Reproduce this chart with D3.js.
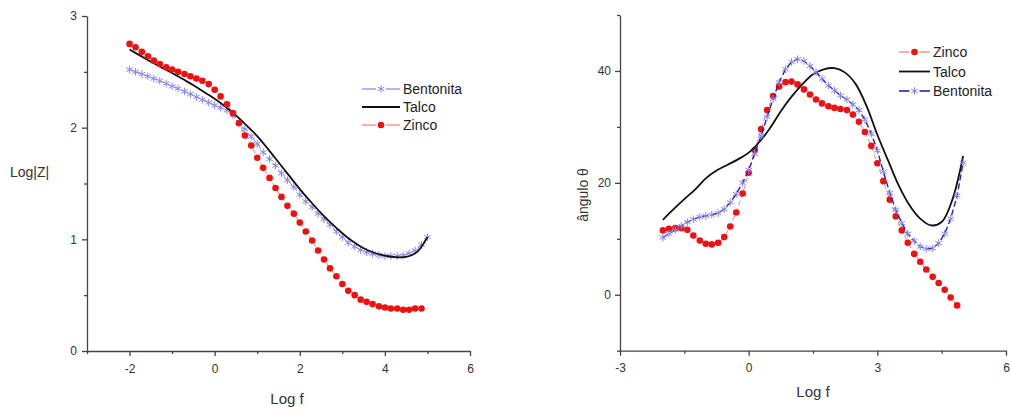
<!DOCTYPE html>
<html>
<head>
<meta charset="utf-8">
<script src="https://cdn.jsdelivr.net/npm/d3@7"></script>
<style>
  html, body { margin: 0; padding: 0; background: #fff; }
  svg { display: block; }
  text { font-family: "Liberation Sans", Arial, Helvetica, sans-serif; }
</style>
</head>
<body>
<svg id="chart" width="1011" height="415"></svg>
<script>
// ---------------- DATA ----------------
// log f grid of the measured (marker) series, 7 points per decade
const logF = [-2.00,-1.86,-1.71,-1.57,-1.43,-1.29,-1.14,-1.00,-0.86,-0.71,-0.57,-0.43,-0.29,-0.14,
  0.00,0.14,0.29,0.43,0.57,0.71,0.86,1.00,1.14,1.29,1.43,1.57,1.71,1.86,2.00,2.14,2.29,2.43,2.57,2.71,2.86,
  3.00,3.14,3.29,3.43,3.57,3.71,3.86,4.00,4.14,4.29,4.43,4.57,4.71,4.86,5.00];
// log f grid of the Talco (solid line) series
const logFTalco = [-2.00,-1.75,-1.50,-1.25,-1.00,-0.75,-0.50,-0.25,0.00,0.25,0.50,0.75,1.00,1.25,1.50,
  1.75,2.00,2.25,2.50,2.75,3.00,3.25,3.50,3.75,4.00,4.25,4.50,4.75,5.00];

// Left panel: Log|Z|
const zBentonita = [2.52,2.50,2.48,2.46,2.44,2.42,2.395,2.37,2.35,2.325,2.30,2.275,2.25,2.225,
  2.20,2.18,2.155,2.11,2.05,1.985,1.92,1.855,1.78,1.72,1.66,1.59,1.53,1.47,1.40,1.34,1.29,1.23,1.18,1.13,1.07,
  1.02,0.97,0.935,0.905,0.885,0.87,0.86,0.85,0.85,0.85,0.855,0.875,0.90,0.95,1.02];
const zTalco = [2.70,2.645,2.59,2.54,2.49,2.435,2.38,2.32,2.26,2.19,2.11,2.02,1.925,1.81,1.69,
  1.57,1.45,1.34,1.235,1.14,1.055,0.98,0.92,0.88,0.855,0.84,0.842,0.885,1.02];
const zZinco = [2.75,2.72,2.68,2.64,2.60,2.57,2.54,2.52,2.50,2.48,2.46,2.44,2.42,2.39,
  2.34,2.28,2.21,2.13,2.04,1.93,1.84,1.73,1.64,1.55,1.46,1.38,1.30,1.23,1.15,1.07,0.99,0.90,0.82,0.74,0.67,
  0.60,0.54,0.50,0.46,0.44,0.42,0.40,0.39,0.38,0.38,0.37,0.37,0.38,0.38];

// Right panel: phase angle θ
const aZinco = [11.5,11.8,11.9,11.9,11.6,10.6,9.7,9.1,9.0,9.3,10.3,12.2,14.7,18.1,
  21.8,25.8,29.6,33.0,35.5,37.2,38.0,38.1,37.6,36.7,35.8,34.9,34.2,33.7,33.4,33.2,33.0,32.2,30.9,29.1,26.6,
  23.5,20.3,17.0,14.0,11.5,9.3,7.3,5.9,4.5,3.2,2.1,0.9,-0.5,-1.9];
const aTalco = [13.4,15.3,17.1,18.8,20.8,22.2,23.2,24.2,25.4,27.3,29.8,32.8,35.4,37.6,39.4,
  40.3,40.5,39.7,37.6,33.7,28.6,24.0,19.5,16.0,13.6,12.4,13.0,17.0,24.8];
const aBentonita = [10.2,10.9,11.6,12.3,13.0,13.5,13.9,14.1,14.3,14.6,15.3,16.5,18.0,20.0,
  22.3,25.2,28.4,31.8,35.0,38.0,40.3,41.6,42.1,41.8,40.9,39.8,38.6,37.4,36.5,35.6,34.9,34.0,33.0,31.3,28.8,
  25.8,22.0,18.2,15.2,12.8,10.9,9.6,8.6,8.2,8.3,9.2,10.9,13.6,17.7,23.6];

// Axis ticks
const leftXMajor = [-2, 0, 2, 4, 6];
const leftXMinor = [-3, -1, 1, 3, 5];
const leftYMajor = [0, 1, 2, 3];
const leftYMinor = [0.5, 1.5, 2.5];
const rightXMajor = [-3, 0, 3, 6];
const rightXMinor = [-1.5, 1.5, 4.5];
const rightYMajor = [0, 20, 40];
const rightYMinor = [-10, 10, 30, 50];

// ---------------- DRAWING ----------------
const svg = d3.select('#chart');
const FONT = '"Liberation Sans", Arial, Helvetica, sans-serif';

const C = {
  red: '#ee1111', redLine: '#f06060',
  blueMark: '#8585ee', blueLineL: '#6a6ae6', blueLineR: '#2424a8',
  black: '#111111', axis: '#444444', text: '#333333'
};
const DOT_R = 3.3, STAR_SIZE = 40;

function zipXY(xs, ys) { return ys.map((v, i) => ({ x: xs[i], y: v })); }

function drawAxes(g, x, y, xMaj, xMin, yMaj, yMin, yPad) {
  const y0 = y.range()[0], x0 = x.range()[0];
  const fmt = d => String(d);
  g.append('g').attr('transform', `translate(0,${y0})`)
    .call(d3.axisBottom(x).tickValues(xMaj).tickSize(5).tickSizeOuter(0).tickPadding(8).tickFormat(fmt));
  g.append('g').attr('transform', `translate(0,${y0})`)
    .call(d3.axisBottom(x).tickValues(xMin).tickSize(3).tickSizeOuter(0).tickFormat(''))
    .select('.domain').remove();
  g.append('g').attr('transform', `translate(${x0},0)`)
    .call(d3.axisLeft(y).tickValues(yMaj).tickSize(5).tickSizeOuter(0).tickPadding(yPad).tickFormat(fmt));
  g.append('g').attr('transform', `translate(${x0},0)`)
    .call(d3.axisLeft(y).tickValues(yMin).tickSize(3).tickSizeOuter(0).tickFormat(''))
    .select('.domain').remove();
  g.selectAll('.domain, .tick line').attr('stroke', C.axis).attr('stroke-width', 1.3);
  g.selectAll('.tick text').attr('fill', C.text).style('font-size', '12px').style('font-family', FONT);
}

function drawDots(g, x, y, data, lineColor, lineW) {
  g.append('path').datum(data)
    .attr('fill', 'none').attr('stroke', lineColor).attr('stroke-width', lineW)
    .attr('stroke-dasharray', '5,3')
    .attr('d', d3.line().x(d => x(d.x)).y(d => y(d.y)));
  g.append('g').selectAll('circle').data(data).join('circle')
    .attr('cx', d => x(d.x)).attr('cy', d => y(d.y)).attr('r', DOT_R)
    .attr('fill', C.red);
}

function drawStars(g, x, y, data, lineColor, lineW, dash) {
  g.append('path').datum(data)
    .attr('fill', 'none').attr('stroke', lineColor).attr('stroke-width', lineW)
    .attr('stroke-dasharray', dash)
    .attr('d', d3.line().x(d => x(d.x)).y(d => y(d.y)));
  const sym = d3.symbol().type(d3.symbolAsterisk).size(STAR_SIZE);
  g.append('g').selectAll('path').data(data).join('path')
    .attr('transform', d => `translate(${x(d.x)},${y(d.y)})`)
    .attr('d', sym).attr('fill', 'none').attr('stroke', C.blueMark).attr('stroke-width', 1);
}

function drawSolid(g, x, y, data) {
  g.append('path').datum(data)
    .attr('fill', 'none').attr('stroke', C.black).attr('stroke-width', 1.8)
    .attr('d', d3.line().curve(d3.curveCatmullRom.alpha(0.5)).x(d => x(d.x)).y(d => y(d.y)));
}

function legend(g, items, x1, x2, tx) {
  items.forEach(it => {
    const row = g.append('g');
    const cy = it.y, mid = (x1 + x2) / 2;
    if (it.kind === 'solid') {
      row.append('line').attr('x1', x1).attr('x2', x2).attr('y1', cy).attr('y2', cy)
        .attr('stroke', C.black).attr('stroke-width', 1.8);
    } else {
      row.append('line').attr('x1', x1).attr('x2', mid - 5).attr('y1', cy).attr('y2', cy)
        .attr('stroke', it.color).attr('stroke-width', it.w);
      row.append('line').attr('x1', mid + 5).attr('x2', x2).attr('y1', cy).attr('y2', cy)
        .attr('stroke', it.color).attr('stroke-width', it.w);
      if (it.kind === 'dot') {
        row.append('circle').attr('cx', mid).attr('cy', cy).attr('r', DOT_R).attr('fill', C.red);
      } else {
        row.append('path').attr('transform', `translate(${mid},${cy})`)
          .attr('d', d3.symbol().type(d3.symbolAsterisk).size(STAR_SIZE)())
          .attr('fill', 'none').attr('stroke', C.blueMark).attr('stroke-width', 1);
      }
    }
    row.append('text').attr('x', tx).attr('y', cy + 5).text(it.label)
      .attr('fill', '#222').style('font-size', '14px').style('font-family', FONT);
  });
}

// ---------- Left panel ----------
const xL = d3.scaleLinear().domain([-3, 6]).range([87, 470]);
const yL = d3.scaleLinear().domain([0, 3]).range([351, 16]);
const gL = svg.append('g');
drawAxes(gL, xL, yL, leftXMajor, leftXMinor, leftYMajor, leftYMinor, 5);
drawStars(gL, xL, yL, zipXY(logF, zBentonita), C.blueLineL, 0.8, '5,3');
drawSolid(gL, xL, yL, zipXY(logFTalco, zTalco));
drawDots(gL, xL, yL, zipXY(logF, zZinco), C.redLine, 0.8);

gL.append('text').attr('x', 10).attr('y', 177).text('Log|Z|')
  .attr('fill', C.text).style('font-size', '14px').style('font-family', FONT);
gL.append('text').attr('x', 287).attr('y', 404).attr('text-anchor', 'middle').text('Log f')
  .attr('fill', C.text).style('font-size', '15px').style('font-family', FONT);

legend(gL, [
  { label: 'Bentonita', kind: 'star', color: C.blueLineL, w: 1, y: 89 },
  { label: 'Talco', kind: 'solid', y: 107 },
  { label: 'Zinco', kind: 'dot', color: C.redLine, w: 1, y: 125 }
], 362, 400, 403);

// ---------- Right panel ----------
const xR = d3.scaleLinear().domain([-3, 6]).range([620, 1006]);
const yR = d3.scaleLinear().domain([-10, 50]).range([350.7, 15]);
const gR = svg.append('g');
drawAxes(gR, xR, yR, rightXMajor, rightXMinor, rightYMajor, rightYMinor, 4);
drawDots(gR, xR, yR, zipXY(logF, aZinco), C.redLine, 0.8);
drawSolid(gR, xR, yR, zipXY(logFTalco, aTalco));
drawStars(gR, xR, yR, zipXY(logF, aBentonita), C.blueLineR, 1.4, '6,3');

gR.append('text').attr('transform', 'translate(588,195) rotate(-90)').attr('text-anchor', 'middle')
  .text('ângulo θ').attr('fill', C.text).style('font-size', '14px').style('font-family', FONT);
gR.append('text').attr('x', 813).attr('y', 397).attr('text-anchor', 'middle').text('Log f')
  .attr('fill', C.text).style('font-size', '15px').style('font-family', FONT);

legend(gR, [
  { label: 'Zinco', kind: 'dot', color: C.redLine, w: 1, y: 52 },
  { label: 'Talco', kind: 'solid', y: 71.5 },
  { label: 'Bentonita', kind: 'star', color: C.blueLineR, w: 1.6, y: 91 }
], 899, 930, 933);
</script>
</body>
</html>
